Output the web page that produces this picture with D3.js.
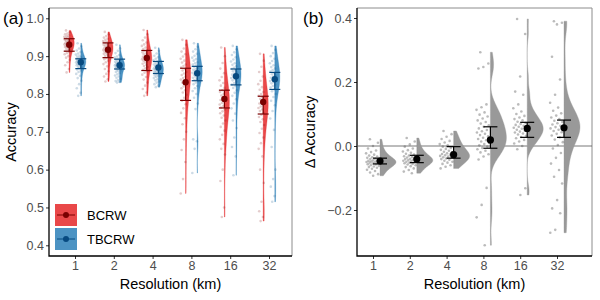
<!DOCTYPE html>
<html>
<head>
<meta charset="utf-8">
<script src="https://cdn.jsdelivr.net/npm/d3@7"></script>
<style>
  body { margin: 0; background: #fff; }
  svg { font-family: "Liberation Sans", Arial, sans-serif; }
  .tick text { fill: #4d4d4d; font-size: 12.5px; }
  .tick line { stroke: #333; }
</style>
</head>
<body>
<div id="chart"></div>
<script>
const resolutions = ["1", "2", "4", "8", "16", "32"];
const models = ["BCRW", "TBCRW"];

// accuracy samples per resolution
const accBCRW = [
  [0.968,0.963,0.96,0.958,0.955,0.953,0.951,0.95,0.948,0.946,0.945,0.943,0.941,0.94,0.938,0.937,0.935,0.934,0.932,0.931,0.93,0.928,0.927,0.925,0.924,0.922,0.92,0.918,0.916,0.914,0.911,0.908,0.905,0.9,0.896,0.89,0.884,0.876,0.866,0.857],
  [0.964,0.958,0.953,0.949,0.946,0.943,0.94,0.938,0.936,0.934,0.932,0.93,0.928,0.926,0.925,0.923,0.921,0.919,0.917,0.916,0.914,0.912,0.91,0.908,0.906,0.904,0.901,0.898,0.895,0.892,0.888,0.884,0.879,0.873,0.866,0.86,0.853,0.846,0.839,0.833],
  [0.969,0.958,0.949,0.942,0.936,0.931,0.927,0.923,0.919,0.916,0.913,0.91,0.907,0.905,0.902,0.9,0.898,0.896,0.894,0.892,0.89,0.888,0.886,0.883,0.88,0.877,0.874,0.871,0.868,0.864,0.86,0.856,0.851,0.845,0.838,0.83,0.822,0.813,0.804,0.795],
  [0.943,0.93,0.92,0.912,0.905,0.899,0.893,0.888,0.883,0.878,0.874,0.87,0.866,0.862,0.858,0.854,0.85,0.846,0.842,0.838,0.834,0.83,0.825,0.82,0.815,0.81,0.804,0.798,0.79,0.782,0.773,0.762,0.75,0.736,0.72,0.7,0.68,0.652,0.62,0.575,0.537],
  [0.923,0.9,0.882,0.867,0.855,0.845,0.836,0.829,0.822,0.816,0.81,0.805,0.8,0.796,0.792,0.788,0.784,0.78,0.776,0.772,0.768,0.764,0.759,0.754,0.749,0.743,0.737,0.73,0.722,0.713,0.703,0.692,0.68,0.668,0.655,0.64,0.6,0.57,0.5,0.475],
  [0.906,0.888,0.872,0.858,0.846,0.835,0.826,0.818,0.811,0.805,0.8,0.795,0.791,0.787,0.783,0.779,0.775,0.771,0.767,0.763,0.759,0.755,0.75,0.745,0.739,0.733,0.726,0.718,0.708,0.697,0.685,0.67,0.655,0.635,0.6,0.565,0.515,0.49,0.475,0.464]
];
const accTBCRW = [
  [0.934,0.926,0.92,0.915,0.911,0.907,0.904,0.901,0.899,0.897,0.895,0.893,0.892,0.89,0.889,0.888,0.887,0.885,0.884,0.883,0.882,0.88,0.879,0.877,0.876,0.874,0.872,0.87,0.868,0.865,0.862,0.858,0.853,0.848,0.842,0.835,0.826,0.815,0.803,0.795],
  [0.93,0.921,0.914,0.908,0.903,0.899,0.896,0.893,0.891,0.889,0.887,0.885,0.884,0.882,0.881,0.879,0.878,0.877,0.876,0.875,0.873,0.872,0.871,0.869,0.868,0.866,0.864,0.862,0.86,0.858,0.855,0.852,0.849,0.846,0.843,0.84,0.837,0.834,0.832,0.83],
  [0.922,0.914,0.907,0.901,0.897,0.893,0.889,0.886,0.884,0.882,0.88,0.878,0.876,0.874,0.873,0.871,0.87,0.869,0.867,0.866,0.864,0.863,0.861,0.86,0.858,0.856,0.855,0.853,0.851,0.849,0.847,0.845,0.842,0.839,0.836,0.833,0.83,0.826,0.822,0.818],
  [0.934,0.925,0.918,0.912,0.906,0.901,0.896,0.892,0.888,0.884,0.881,0.878,0.875,0.872,0.869,0.866,0.864,0.861,0.859,0.856,0.854,0.851,0.849,0.846,0.843,0.84,0.837,0.834,0.83,0.826,0.821,0.815,0.808,0.8,0.79,0.775,0.76,0.68,0.675,0.655,0.591],
  [0.927,0.918,0.91,0.903,0.897,0.891,0.886,0.881,0.877,0.873,0.869,0.866,0.863,0.86,0.857,0.854,0.851,0.848,0.845,0.842,0.839,0.836,0.833,0.829,0.825,0.821,0.816,0.81,0.803,0.795,0.786,0.775,0.762,0.748,0.73,0.71,0.685,0.66,0.635,0.585],
  [0.927,0.917,0.908,0.9,0.893,0.887,0.881,0.876,0.871,0.867,0.863,0.859,0.855,0.852,0.849,0.846,0.843,0.84,0.837,0.834,0.831,0.828,0.825,0.821,0.817,0.812,0.807,0.8,0.792,0.782,0.77,0.755,0.735,0.705,0.66,0.6,0.575,0.555,0.53,0.515]
];
const meanBCRW = [0.930, 0.917, 0.895, 0.831, 0.787, 0.779];
const hiBCRW   = [0.946, 0.935, 0.915, 0.868, 0.810, 0.794];
const loBCRW   = [0.913, 0.896, 0.862, 0.783, 0.763, 0.747];
const meanTBCRW = [0.884, 0.876, 0.870, 0.855, 0.847, 0.839];
const hiTBCRW   = [0.893, 0.892, 0.886, 0.873, 0.866, 0.857];
const loTBCRW   = [0.867, 0.866, 0.854, 0.835, 0.824, 0.812];

// difference in accuracy (TBCRW - BCRW)
const delta = [
  [0.021,0.01,0.0,-0.008,-0.014,-0.019,-0.023,-0.027,-0.03,-0.033,-0.035,-0.037,-0.039,-0.041,-0.043,-0.044,-0.046,-0.047,-0.048,-0.05,-0.051,-0.052,-0.054,-0.055,-0.057,-0.058,-0.06,-0.062,-0.064,-0.066,-0.068,-0.071,-0.074,-0.078,-0.083,-0.088,-0.093],
  [0.025,0.014,0.005,-0.002,-0.008,-0.013,-0.017,-0.021,-0.024,-0.027,-0.03,-0.032,-0.034,-0.036,-0.038,-0.04,-0.041,-0.043,-0.044,-0.046,-0.047,-0.049,-0.05,-0.052,-0.054,-0.056,-0.058,-0.06,-0.063,-0.066,-0.07,-0.075,-0.08,-0.085],
  [0.047,0.037,0.029,0.022,0.016,0.011,0.006,0.002,-0.002,-0.006,-0.009,-0.012,-0.015,-0.018,-0.02,-0.023,-0.025,-0.027,-0.029,-0.031,-0.033,-0.035,-0.037,-0.039,-0.041,-0.043,-0.046,-0.049,-0.052,-0.056,-0.06,-0.065,-0.07],
  [0.293,0.258,0.247,0.242,0.13,0.121,0.113,0.105,0.098,0.092,0.086,0.08,0.075,0.07,0.065,0.06,0.055,0.05,0.046,0.042,0.038,0.034,0.03,0.026,0.022,0.018,0.014,0.01,0.006,0.002,-0.002,-0.006,-0.01,-0.015,-0.02,-0.026,-0.033,-0.042,-0.131,-0.184,-0.223,-0.31],
  [0.397,0.35,0.217,0.17,0.16,0.13,0.118,0.108,0.1,0.094,0.089,0.084,0.08,0.076,0.072,0.069,0.066,0.063,0.06,0.057,0.054,0.051,0.048,0.045,0.042,0.039,0.036,0.032,0.028,0.024,0.019,0.014,0.008,0.0,-0.01,-0.132,-0.153],
  [0.39,0.385,0.38,0.279,0.208,0.16,0.135,0.12,0.11,0.102,0.095,0.089,0.084,0.079,0.075,0.071,0.067,0.063,0.059,0.055,0.051,0.047,0.043,0.038,0.033,0.027,0.02,0.012,0.003,-0.008,-0.022,-0.037,-0.055,-0.075,-0.096,-0.117,-0.169,-0.195,-0.21,-0.262,-0.271]
];
const deltaMean = [-0.047, -0.041, -0.027, 0.019, 0.055, 0.057];
const deltaHi   = [-0.038, -0.029, -0.002, 0.060, 0.074, 0.081];
const deltaLo   = [-0.056, -0.052, -0.038, -0.007, 0.027, 0.027];

const accTicks = [0.4, 0.5, 0.6, 0.7, 0.8, 0.9, 1.0];
const deltaTicks = [-0.2, 0.0, 0.2, 0.4];

const fill = { BCRW: "#e41a1c", TBCRW: "#1f78b4" };
const dark = { BCRW: "#7a0000", TBCRW: "#074a80" };

const W = 600, H = 300;
const svg = d3.select("#chart").append("svg").attr("width", W).attr("height", H);

// gaussian kde, bw.nrd0, trimmed to data range
function kde(values) {
    const s = values.slice().sort(d3.ascending);
    const sd = d3.deviation(s);
    const iqr = d3.quantile(s, 0.75) - d3.quantile(s, 0.25);
    const bw = 0.9 * Math.min(sd, iqr / 1.34) * Math.pow(s.length, -0.2);
    const [lo, hi] = d3.extent(s);
    return d3.range(121).map(k => {
        const v = lo + (hi - lo) * k / 120;
        return [v, d3.mean(s, d => Math.exp(-0.5 * ((v - d) / bw) ** 2))];
    });
}
const jit = i => (i * 0.6180339887 + 0.3) % 1;

function panel(o) {
    const g = svg.append("g");
    const x = d3.scalePoint().domain(resolutions).range(o.xr);
    const y = d3.scaleLinear().domain(o.yd).range(o.yr);

    g.append("g").attr("transform", `translate(0,${o.bottom})`)
        .call(d3.axisBottom(x).tickSize(3).tickPadding(2))
        .call(a => a.select(".domain").remove());
    g.append("g").attr("transform", `translate(${o.left},0)`)
        .call(d3.axisLeft(y).tickValues(o.ticks).tickFormat(o.fmt).tickSize(3).tickPadding(2))
        .call(a => a.select(".domain").remove());

    // panel border
    g.append("path").attr("fill", "none").attr("stroke", "#8c8c8c").attr("stroke-width", 1)
        .attr("d", `M${o.left},${o.top}H${o.right}V${o.bottom}`);
    g.append("path").attr("fill", "none").attr("stroke", "#000").attr("stroke-width", 1.3)
        .attr("d", `M${o.left},${o.top}V${o.bottom}H${o.right}`);

    g.append("text").attr("x", (o.left + o.right) / 2).attr("y", 289)
        .attr("text-anchor", "middle").attr("font-size", 14.5).text("Resolution (km)");
    g.append("text").attr("transform", `translate(${o.ytx},${(o.top + o.bottom) / 2}) rotate(-90)`)
        .attr("text-anchor", "middle").attr("font-size", 14.5).text(o.ytitle);
    g.append("text").attr("x", o.tagx).attr("y", 24).attr("font-size", 17).text(o.tag);
    return { g, x, y };
}

function raincloud(g, y, base, values, col, maxW, jx0, jx1, ptCol, ptOp) {
    const dens = kde(values);
    const maxD = d3.max(dens, d => d[1]);
    const area = d3.area().y(d => y(d[0])).x0(base).x1(d => base + d[1] / maxD * maxW);
    g.append("path").attr("d", area(dens)).attr("fill", col.fill).attr("fill-opacity", col.op)
        .attr("stroke", col.fill).attr("stroke-opacity", col.op * 0.6).attr("stroke-width", 0.6);
    g.append("g").selectAll("circle").data(values).join("circle")
        .attr("cx", (d, i) => base + jx0 + (jx1 - jx0) * jit(i))
        .attr("cy", d => y(d)).attr("r", 1.3)
        .attr("fill", ptCol).attr("fill-opacity", ptOp);
}

function errbar(g, y, base, m, lo, hi, col, cap, r, sw) {
    g.append("line").attr("x1", base).attr("x2", base).attr("y1", y(lo)).attr("y2", y(hi))
        .attr("stroke", col).attr("stroke-width", sw);
    [lo, hi].forEach(v => g.append("line").attr("x1", base - cap / 2).attr("x2", base + cap / 2)
        .attr("y1", y(v)).attr("y2", y(v)).attr("stroke", col).attr("stroke-width", sw));
    g.append("circle").attr("cx", base).attr("cy", y(m)).attr("r", r).attr("fill", col);
}

// (a) accuracy
const A = panel({ xr: [75, 269], yd: [0.4, 1.0], yr: [245.3, 18.3], left: 49, right: 292, top: 8, bottom: 256,
    ticks: accTicks, fmt: d3.format(".1f"), ytitle: "Accuracy", ytx: 16, tag: "(a)", tagx: 3 });
resolutions.forEach((r, i) => {
    const cx = A.x(r);
    const sets = [
        ["BCRW", cx - 5.8, accBCRW[i], meanBCRW[i], loBCRW[i], hiBCRW[i]],
        ["TBCRW", cx + 5.8, accTBCRW[i], meanTBCRW[i], loTBCRW[i], hiTBCRW[i]]
    ];
    sets.forEach(([m, base, vals]) =>
        raincloud(A.g, A.y, base, vals, { fill: fill[m], op: 0.8 }, 5, -5, 1, dark[m], 0.2));
    sets.forEach(([m, base, vals, mu, lo, hi]) =>
        errbar(A.g, A.y, base, mu, lo, hi, dark[m], 11, 3.2, 1.2));
});

// legend
const leg = A.g.append("g").attr("transform", "translate(55,204)");
models.forEach((m, i) => {
    const k = leg.append("g").attr("transform", `translate(0,${i * 24})`);
    k.append("rect").attr("width", 22).attr("height", 22).attr("fill", fill[m]).attr("fill-opacity", 0.8);
    k.append("line").attr("x1", 2).attr("x2", 20).attr("y1", 11).attr("y2", 11).attr("stroke", dark[m]).attr("stroke-width", 1);
    k.append("circle").attr("cx", 11).attr("cy", 11).attr("r", 3).attr("fill", dark[m]);
    k.append("text").attr("x", 32).attr("y", 16).attr("font-size", 13).text(m);
});

// (b) delta accuracy
const B = panel({ xr: [373, 557], yd: [-0.2, 0.4], yr: [210, 18], left: 357, right: 592, top: 8, bottom: 256,
    ticks: deltaTicks, fmt: d3.format(".1f"), ytitle: "\u0394 Accuracy", ytx: 315, tag: "(b)", tagx: 303 });
B.g.append("line").attr("x1", 357).attr("x2", 592).attr("y1", B.y(0)).attr("y2", B.y(0))
    .attr("stroke", "#555").attr("stroke-width", 0.8);
resolutions.forEach((r, i) => {
    const base = B.x(r) + 7;
    raincloud(B.g, B.y, base, delta[i], { fill: "#999", op: 1 }, 16, -14, -1, "#555", 0.4);
    errbar(B.g, B.y, base, deltaMean[i], deltaLo[i], deltaHi[i], "#000", 14, 3.6, 1.2);
});
</script>
</body>
</html>
